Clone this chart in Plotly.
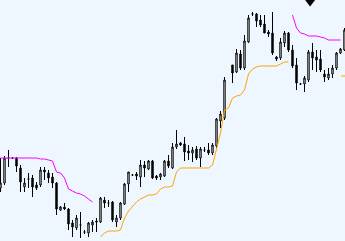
import plotly.graph_objects as go

# Candle index (one per bar)
idx = list(range(87))

open_ = [53, 58, 83, 83, 83, 73, 54, 62, 63, 56,
         56, 71, 68, 64, 58, 31, 34, 32, 18, 13,
         16, 9, 8, 16, 20, 19, 41, 38, 39, 19,
         23, 37, 57, 66, 67, 64, 76, 72, 80, 65,
         64, 65, 80, 73, 94, 98, 97, 90, 88, 92,
         83, 91, 91, 88, 95, 120, 123, 175, 176, 169,
         187, 173, 199, 227, 227, 221, 217, 209, 208, 184,
         183, 198, 208, 191, 176, 157, 157, 161, 189, 184,
         182, 167, 163, 167, 173, 188, 191]
high = [83, 85, 91, 84, 84, 76, 63, 68, 66, 59,
        74, 74, 71, 68, 59, 35, 38, 33, 21, 26,
        29, 11, 19, 21, 23, 44, 44, 41, 40, 26,
        39, 58, 69, 67, 69, 81, 80, 81, 81, 66,
        68, 81, 86, 98, 111, 99, 104, 96, 94, 95,
        94, 94, 98, 98, 123, 130, 164, 177, 176, 192,
        191, 206, 226, 229, 228, 226, 226, 211, 229, 185,
        203, 210, 209, 196, 183, 158, 165, 191, 198, 191,
        191, 171, 173, 176, 189, 193, 213]
low = [49, 56, 74, 82, 69, 49, 49, 53, 44, 51,
       54, 61, 58, 53, 26, 30, 31, 11, 4, 11,
       3, 7, 4, 9, 9, 18, 33, 34, 19, 14,
       21, 36, 49, 65, 61, 54, 64, 71, 62, 61,
       61, 64, 73, 72, 92, 95, 80, 81, 79, 81,
       74, 89, 86, 86, 93, 113, 121, 173, 158, 168,
       171, 171, 198, 225, 214, 214, 208, 204, 186, 180,
       181, 194, 189, 173, 151, 156, 149, 159, 171, 169,
       169, 159, 161, 163, 171, 187, 190]
close = [58, 83, 83, 83, 75, 59, 58, 62, 54, 53,
         71, 69, 63, 58, 32, 34, 32, 17, 14, 23,
         16, 9, 18, 19, 19, 43, 38, 38, 21, 23,
         38, 57, 69, 66, 65, 76, 73, 80, 63, 63,
         67, 80, 75, 94, 97, 96, 89, 88, 91, 83,
         92, 91, 88, 96, 122, 127, 161, 175, 168, 188,
         173, 200, 223, 227, 220, 216, 208, 207, 188, 182,
         199, 208, 191, 175, 158, 157, 163, 189, 183, 181,
         171, 164, 167, 173, 188, 192, 211]

white_doji = [57]

# Trailing stop lines
upper1_idx = list(range(0, 24))
upper1 = [83, 83, 83, 83, 83, 83, 83, 83, 83, 83,
          82, 82, 81, 80, 69, 68, 63, 52, 50, 48,
          47, 45, 42, 39]
lower1_idx = list(range(25, 73))
lower1 = [4, 8, 10, 10, 10, 11,
          23, 30, 35, 39, 42, 44, 46, 46, 47, 52, 54, 54, 55,
          69, 73,
          73, 73, 73, 73, 73, 73, 73,
          76, 91, 108, 131, 133, 143, 145, 146, 151, 167, 172, 174,
          175, 175, 175, 175, 175, 177, 179, 179]
upper2_idx = list(range(73, 86))
upper2 = [226, 213, 208, 207, 205, 205, 205, 204, 203, 201, 201, 201, 201]
lower2_idx = [86]
lower2 = [165]

signal_x = [77.4]
signal_y = [240]

BG = "#EEF6FF"

main = [i for i in idx if i not in white_doji]

fig = go.Figure()
fig.add_trace(go.Scatter(x=upper1_idx, y=upper1, mode="lines",
                         line=dict(color="#FF00FF", width=1), hoverinfo="skip"))
fig.add_trace(go.Scatter(x=lower1_idx, y=lower1, mode="lines",
                         line=dict(color="#FFA500", width=1), hoverinfo="skip"))
fig.add_trace(go.Scatter(x=upper2_idx, y=upper2, mode="lines",
                         line=dict(color="#FF00FF", width=1), hoverinfo="skip"))
fig.add_trace(go.Scatter(x=lower2_idx, y=lower2, mode="markers",
                         marker=dict(symbol="line-ew", size=5,
                                     line=dict(color="#FFA500", width=1)),
                         hoverinfo="skip"))

fig.add_trace(go.Candlestick(
    x=[idx[i] for i in main],
    open=[open_[i] for i in main], high=[high[i] for i in main],
    low=[low[i] for i in main], close=[close[i] for i in main],
    increasing=dict(line=dict(color="black", width=1), fillcolor="white"),
    decreasing=dict(line=dict(color="black", width=1), fillcolor="black"),
    whiskerwidth=0,
))
fig.add_trace(go.Candlestick(
    x=[idx[i] for i in white_doji],
    open=[open_[i] for i in white_doji], high=[high[i] for i in white_doji],
    low=[low[i] for i in white_doji], close=[close[i] for i in white_doji],
    increasing=dict(line=dict(color="white", width=1), fillcolor="white"),
    decreasing=dict(line=dict(color="white", width=1), fillcolor="white"),
    whiskerwidth=0,
))
fig.add_trace(go.Scatter(x=signal_x, y=signal_y, mode="markers",
                         marker=dict(symbol="triangle-down", size=11, color="black"),
                         hoverinfo="skip", cliponaxis=False))

fig.update_layout(
    width=345, height=241,
    margin=dict(l=0, r=0, t=0, b=0),
    paper_bgcolor=BG, plot_bgcolor=BG,
    showlegend=False,
    boxgap=0.5,
    xaxis=dict(range=[-0.125, 86.125], visible=False, rangeslider=dict(visible=False),
               fixedrange=True),
    yaxis=dict(range=[0, 241], visible=False, fixedrange=True),
)

fig.write_html("out.html", config={"displayModeBar": False})
